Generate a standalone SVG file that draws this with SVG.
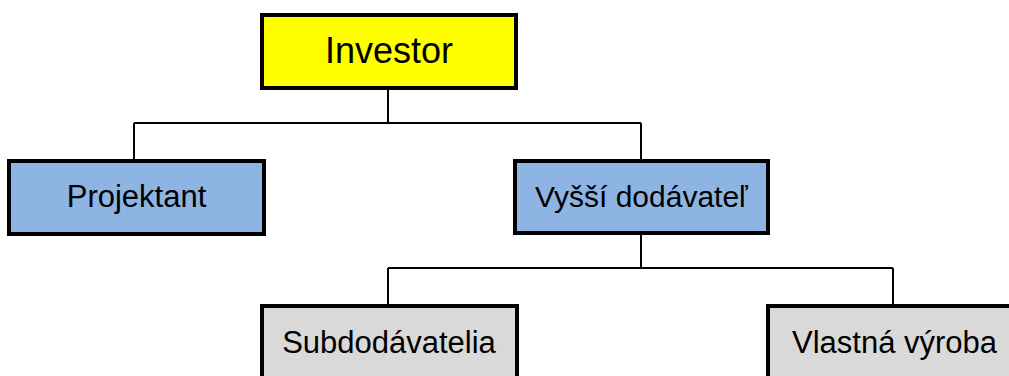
<svg xmlns="http://www.w3.org/2000/svg" width="1009" height="376" viewBox="0 0 1009 376">
  <style>
    .box { stroke: #000; stroke-width: 4; }
    .top { fill: #FFFF00; }
    .mid { fill: #8EB4E3; }
    .low { fill: #D9D9D9; }
    .lbl { font-family: "Liberation Sans", Arial, sans-serif; fill: #000; text-anchor: middle; font-size: 31px; }
    .big { font-size: 36px; }
    .wire { fill: none; stroke: #000; stroke-width: 2; }
  </style>
  <rect width="1009" height="376" fill="#FFFFFF"/>

  <!-- connectors -->
  <g id="connectors">
    <path class="wire" d="M388 89 V123 M134 123 H641 M134 123 V160 M641 123 V160"/>
    <path class="wire" d="M641 234 V268 M388 268 H893 M388 268 V305 M893 268 V305"/>
  </g>

  <g id="investor">
    <rect class="box top" x="262" y="15" width="254" height="73"/>
    <text class="lbl big" x="389" y="63">Investor</text>
  </g>

  <g id="projektant">
    <rect class="box mid" x="9" y="161" width="255" height="73"/>
    <text class="lbl" x="136.5" y="207">Projektant</text>
  </g>

  <g id="vyssi-dodavatel">
    <rect class="box mid" x="515" y="161" width="253" height="72"/>
    <text class="lbl" x="641.5" y="207" style="font-size:30px">Vyšší dodávateľ</text>
  </g>

  <g id="subdodavatelia">
    <rect class="box low" x="262" y="306" width="255" height="90"/>
    <text class="lbl" x="389" y="353">Subdodávatelia</text>
  </g>

  <g id="vlastna-vyroba">
    <rect class="box low" x="768" y="306" width="252" height="90"/>
    <text class="lbl" x="894.5" y="353">Vlastná výroba</text>
  </g>
</svg>
